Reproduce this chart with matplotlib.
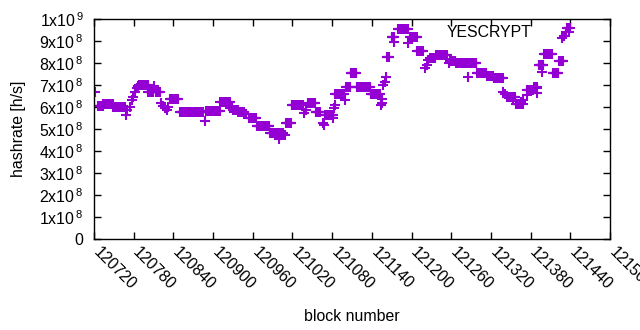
import numpy as np
import matplotlib
matplotlib.use("Agg")
import matplotlib.pyplot as plt
import matplotlib.transforms as mtransforms
from matplotlib.ticker import MultipleLocator, FuncFormatter

plt.rcParams['font.family'] = ['Liberation Sans', 'DejaVu Sans']
plt.rcParams['mathtext.fontset'] = 'custom'
plt.rcParams['mathtext.rm'] = 'Liberation Sans'

# runs of constant hashrate: first block, last block, hashrate [1e8 h/s]
run_start = [120722, 120726, 120734, 120749, 120768, 120770, 120774, 120778, 120779, 120782,
             120785, 120787, 120788, 120802, 120811, 120814, 120821, 120824, 120827, 120830,
             120832, 120835, 120850, 120888, 120890, 120911, 120913, 120926, 120930, 120938,
             120947, 120955, 120966, 120986, 120999, 121004, 121009, 121010, 121019, 121038,
             121040, 121044, 121055, 121066, 121068, 121069, 121082, 121083, 121084, 121085,
             121099, 121101, 121108, 121117, 121138, 121154, 121155, 121156, 121157, 121160,
             121161, 121163, 121170, 121173, 121180, 121195, 121198, 121209, 121220, 121223,
             121225, 121228, 121237, 121257, 121258, 121267, 121286, 121299, 121314, 121324,
             121339, 121341, 121344, 121346, 121354, 121358, 121366, 121369, 121374, 121375,
             121385, 121389, 121390, 121392, 121397, 121400, 121414, 121423, 121428, 121430,
             121433, 121435]
run_end = [120722, 120733, 120748, 120767, 120768, 120770, 120774, 120778, 120779, 120782,
           120785, 120787, 120801, 120809, 120811, 120820, 120821, 120824, 120827, 120830,
           120832, 120847, 120885, 120888, 120910, 120911, 120925, 120929, 120937, 120946,
           120950, 120965, 120985, 121005, 120999, 121004, 121009, 121018, 121036, 121038,
           121040, 121054, 121062, 121066, 121068, 121081, 121082, 121083, 121084, 121098,
           121099, 121107, 121116, 121137, 121152, 121154, 121155, 121156, 121157, 121160,
           121161, 121166, 121174, 121173, 121194, 121195, 121208, 121217, 121220, 121223,
           121225, 121235, 121253, 121257, 121266, 121298, 121286, 121313, 121323, 121338,
           121339, 121341, 121344, 121356, 121354, 121368, 121366, 121369, 121374, 121384,
           121389, 121389, 121390, 121399, 121397, 121412, 121422, 121429, 121428, 121430,
           121433, 121439]
run_value = [6.70, 6.03, 6.14, 5.99, 5.64, 5.86, 6.00, 6.32, 6.47, 6.67,
             6.85, 6.95, 7.00, 6.70, 6.95, 6.67, 6.17, 6.05, 5.94, 5.86,
             6.00, 6.35, 5.76, 5.36, 5.82, 6.24, 6.24, 5.95, 5.87, 5.79,
             5.70, 5.48, 5.15, 4.80, 4.55, 4.75, 4.73, 5.26, 6.09, 5.71,
             5.86, 6.17, 5.79, 5.26, 5.18, 5.64, 5.51, 5.94, 6.09, 6.58,
             6.32, 6.92, 7.53, 6.90, 6.58, 6.09, 6.35, 6.17, 7.00, 7.15,
             7.35, 8.26, 9.20, 8.97, 9.53, 8.90, 9.20, 8.56, 7.76, 7.91,
             8.14, 8.21, 8.36, 7.98, 8.10, 7.98, 7.35, 7.53, 7.42, 7.30,
             6.70, 6.58, 6.47, 6.47, 6.32, 6.12, 6.21, 6.32, 6.55, 6.77,
             6.92, 6.85, 6.62, 7.91, 7.58, 8.40, 7.53, 8.09, 9.15, 9.24,
             9.42, 9.60]

blocks = []
rates = []
for s, e, v in zip(run_start, run_end, run_value):
    for b in range(s, e + 1):
        blocks.append(b)
        rates.append(v * 1e8)

fig = plt.figure(figsize=(6.4, 3.3), dpi=100)
ax = fig.add_axes([94/640, 1-239/330, 516/640, 220/330])

ax.plot(blocks, rates, linestyle='none', marker='+', markersize=7, markeredgewidth=1.5,
        color='#9400d3', label='YESCRYPT')

ax.set_xlim(120720, 121500)
ax.set_ylim(0, 1e9)
ax.xaxis.set_major_locator(MultipleLocator(60))
ax.yaxis.set_major_locator(MultipleLocator(1e8))

def yfmt(v, pos):
    if v == 0:
        return '0'
    m = v / 1e8
    if m >= 10:
        return r'1x10$^{\,9}$'
    return r'%dx10$^{\,8}$' % round(m)

fs = 11.4
ax.yaxis.set_major_formatter(FuncFormatter(yfmt))
ax.tick_params(direction='in', length=5, width=1, top=True, right=True, labelsize=fs)
ax.tick_params(axis='x', pad=4)
ax.tick_params(axis='y', pad=7.5)
shift = mtransforms.ScaledTranslation(7/100, 0, fig.dpi_scale_trans)
for lab in ax.get_xticklabels():
    lab.set_rotation(-45)
    lab.set_ha('left')
    lab.set_va('top')
    lab.set_rotation_mode('anchor')
    lab.set_transform(lab.get_transform() + shift)
for sp in ax.spines.values():
    sp.set_linewidth(1)

ax.set_xlabel('block number', fontsize=fs)
ax.set_ylabel('hashrate [h/s]', fontsize=fs)
ax.xaxis.set_label_coords(0.5, -0.32)
ax.yaxis.set_label_coords(-0.132, 0.5)

ax.legend(loc='upper right', bbox_to_anchor=(0.955, 1.014), frameon=False, markerfirst=False,
          fontsize=fs, handlelength=1.0, handletextpad=1.9, borderaxespad=0.2)

fig.savefig('out.png', dpi=100)
